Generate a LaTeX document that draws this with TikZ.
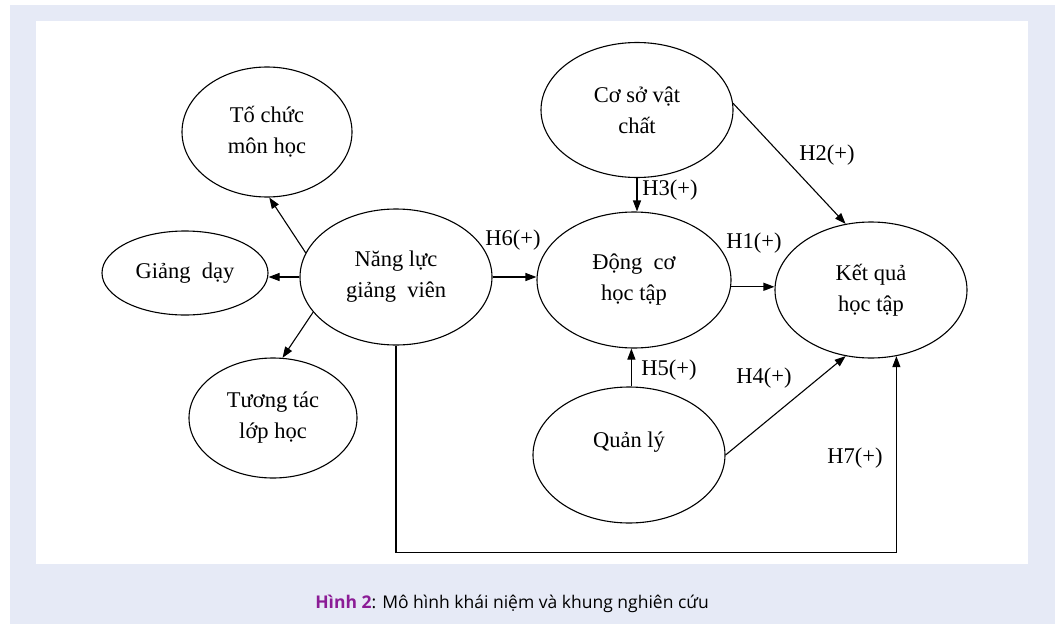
\documentclass[tikz,border=0pt]{standalone}
\usepackage{fontspec}
\setmainfont{Liberation Serif}
\newfontfamily\capfont{Open Sans}
\usetikzlibrary{arrows.meta,shapes.geometric}
\definecolor{pagebg}{RGB}{230,234,246}
\definecolor{figpurple}{RGB}{139,28,150}

\begin{document}
\begin{tikzpicture}[x=1pt,y=-1pt,font=\fontsize{22.5}{31}\selectfont,
  concept/.style={draw,ellipse,line width=1.1pt,inner sep=0pt,align=center,minimum width=192pt,minimum height=136pt},
  arr/.style={line width=1.1pt,-{Triangle[length=11pt,width=8pt]}},
  hyp/.style={inner sep=0pt}]
\useasboundingbox (0,0) rectangle (1058,624);
\fill[pagebg] (10,5) rectangle (1055,624);
\fill[white] (36,21) rectangle (1028,564);

% factors of lecturer competence
\node[concept,minimum width=170pt,minimum height=130pt] (tochuc) at (267,132) {Tố chức\\môn học};
\node[concept,minimum width=166pt,minimum height=84pt] (giangday) at (185,273) {Giảng~ dạy};
\node[concept,minimum width=168pt,minimum height=120pt] (tuongtac) at (273,418) {Tương tác\\lớp học};
\node[concept] (nangluc) at (396,277) {Năng lực\\giảng~ viên};

% main model
\node[concept,minimum height=135pt] (coso) at (637,110) {Cơ sở vật\\chất};
\node[concept,minimum width=194pt] (dongco) at (634,280) {Động~ cơ\\học tập};
\node[concept] (ketqua) at (871,290) {Kết quả\\học tập};
\node[concept] (quanly) at (629,455) {Quản lý\\\mbox{}};

\draw[arr] (nangluc.165) -- (tochuc.272);
\draw[arr] (nangluc.west) -- (nangluc.west -| giangday.east);
\draw[arr] (nangluc.203) -- (tuongtac.81);
\draw[arr] (nangluc.east) -- (nangluc.east -| dongco.west);
\draw[arr] (coso.south) -- (coso.south |- dongco.north);
\draw[arr] (coso.4) -- (ketqua.111);
\draw[arr] (dongco.-4) -- (dongco.-4 -| ketqua.west);
\draw[arr] (quanly.88) -- (quanly.88 |- dongco.south);
\draw[arr] (quanly.east) -- (ketqua.249);
\draw[arr] (nangluc.south) -- ++(0,207) -| (ketqua.-69);

\node[hyp] (h6) at (513,240) {H6(+)};
\node[hyp] (h3) at (670,190) {H3(+)};
\node[hyp] (h2) at (827,155) {H2(+)};
\node[hyp] (h1) at (754,243) {H1(+)};
\node[hyp] (h5) at (669,370) {H5(+)};
\node[hyp] (h4) at (764,378) {H4(+)};
\node[hyp] (h7) at (855,458) {H7(+)};

\node[font=\capfont\fontsize{17.5}{20}\selectfont] (caption) at (512,604) {\textcolor{figpurple}{\bfseries Hình 2}: Mô hình khái niệm và khung nghiên cứu};
\end{tikzpicture}
\end{document}
